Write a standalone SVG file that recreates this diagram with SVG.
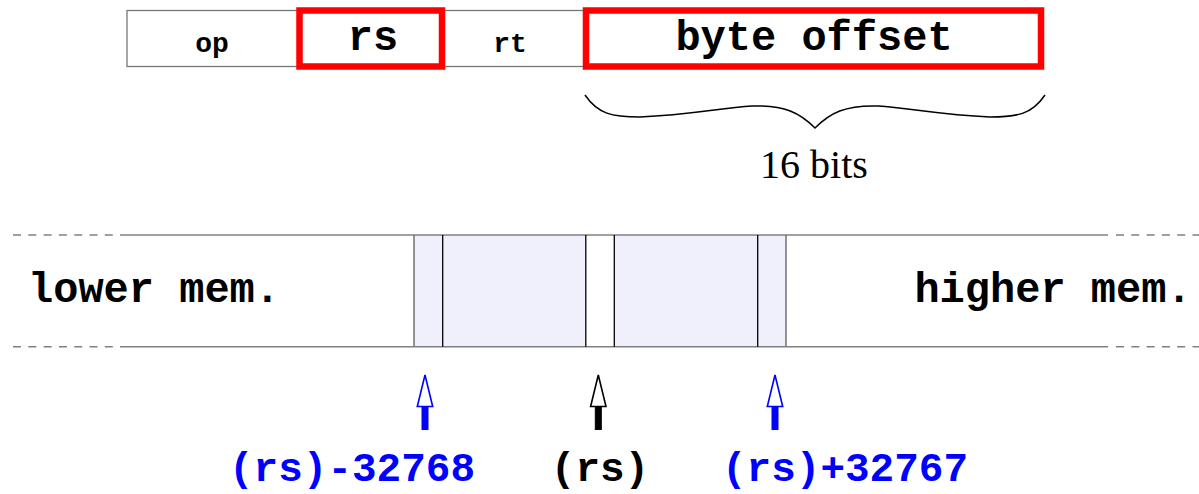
<svg xmlns="http://www.w3.org/2000/svg" width="1199" height="494" viewBox="0 0 1199 494">
  <style>
    .mono { font-family: "Liberation Mono", "Courier New", monospace; font-weight: bold; text-anchor: middle; }
    .big { font-size: 42px; }
    .addr { font-size: 41px; }
    .small { font-size: 28px; }
    .serif { font-family: "Liberation Serif", "Times New Roman", serif; font-size: 40px; text-anchor: middle; }
    .field { fill: none; stroke: #777777; stroke-width: 1.3; }
    .hl { fill: none; stroke: #ff0000; stroke-width: 6.5; }
    .rail { stroke: #808080; stroke-width: 1.4; fill: none; }
    .dash { stroke: #808080; stroke-width: 1.4; stroke-dasharray: 8 7.3; fill: none; }
    .cell { fill: #f0f0fd; stroke: none; }
    .edge-g { stroke: #707070; stroke-width: 1.5; }
    .edge-k { stroke: #000000; stroke-width: 1.3; }
    .blue { fill: #0000ff; }
  </style>
  <defs>
    <!-- open-head pointer arrow, tip at origin -->
    <g id="ptr">
      <rect x="-3" y="31.5" width="6" height="23" />
      <polygon points="0,0 -7.7,31.5 7.7,31.5" fill="#ffffff" stroke-width="1.6" />
    </g>
  </defs>

  <!-- instruction word -->
  <g id="instruction">
    <rect class="field" x="127" y="10.5" width="458" height="56" />
    <g id="field-op">
      <text class="mono small" x="212" y="52">op</text>
    </g>
    <g id="field-rs">
      <rect class="hl" x="299.5" y="10.5" width="142.5" height="56" />
      <text class="mono big" x="373" y="50">rs</text>
    </g>
    <g id="field-rt">
      <text class="mono small" x="510" y="52">rt</text>
    </g>
    <g id="field-offset">
      <rect class="hl" x="586" y="10.5" width="455" height="56" />
      <text class="mono big" x="814" y="50">byte offset</text>
    </g>
  </g>

  <!-- brace and width note -->
  <g id="width-note">
    <path d="M585,95 C598,114 612,117 640,117 C690,115 720,108 752,106 C785,105 800,113 815,128 C830,113 845,105 878,106 C910,108 940,115 990,117 C1018,117 1032,114 1045,95" fill="none" stroke="#000000" stroke-width="1.5" />
    <text class="serif" x="814" y="178">16 bits</text>
  </g>

  <!-- memory strip -->
  <g id="memory">
    <rect class="cell" x="414" y="235" width="172" height="112" />
    <rect class="cell" x="614" y="235" width="172" height="112" />
    <line class="dash" x1="13" y1="235" x2="120" y2="235" />
    <line class="dash" x1="13" y1="346.7" x2="120" y2="346.7" />
    <line class="rail" x1="120" y1="235" x2="1108" y2="235" />
    <line class="rail" x1="120" y1="346.7" x2="1108" y2="346.7" />
    <line class="dash" x1="1116" y1="235" x2="1199" y2="235" />
    <line class="dash" x1="1116" y1="346.7" x2="1199" y2="346.7" />
    <line class="edge-g" x1="414" y1="235" x2="414" y2="346.7" />
    <line class="edge-k" x1="442.7" y1="235" x2="442.7" y2="346.7" />
    <line class="edge-k" x1="585.8" y1="235" x2="585.8" y2="346.7" />
    <line class="edge-k" x1="614.3" y1="235" x2="614.3" y2="346.7" />
    <line class="edge-k" x1="757.7" y1="235" x2="757.7" y2="346.7" />
    <line class="edge-g" x1="786" y1="235" x2="786" y2="346.7" />
    <text class="mono big" x="154" y="301.7">lower mem.</text>
    <text class="mono big" x="1053" y="301.7">higher mem.</text>
  </g>

  <!-- pointers into memory -->
  <g id="connectors">
    <use href="#ptr" x="425" y="375" fill="#0000ff" stroke="#0000ff" />
    <use href="#ptr" x="598.3" y="375" fill="#000000" stroke="#000000" />
    <use href="#ptr" x="775" y="375" fill="#0000ff" stroke="#0000ff" />
  </g>

  <g id="label-low">
    <text class="mono addr blue" x="352" y="481">(rs)-32768</text>
  </g>
  <g id="label-base">
    <text class="mono addr" x="600" y="481">(rs)</text>
  </g>
  <g id="label-high">
    <text class="mono addr blue" x="845" y="481">(rs)+32767</text>
  </g>
</svg>
